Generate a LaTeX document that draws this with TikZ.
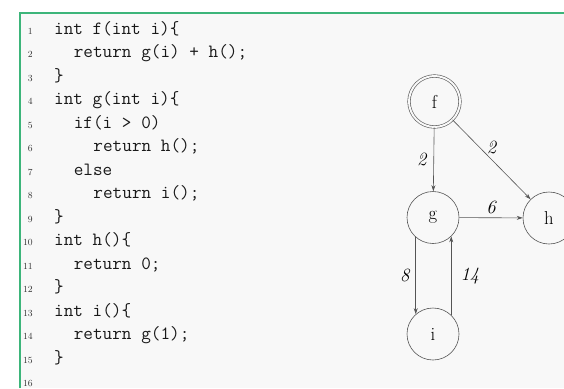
\documentclass[tikz,border=0pt]{standalone}
\usetikzlibrary{arrows.meta}
\definecolor{panelbg}{HTML}{F8F8F8}
\definecolor{framegreen}{HTML}{3DB57A}
\definecolor{edgegray}{HTML}{555555}
\definecolor{numgray}{HTML}{333333}
\begin{document}
\begin{tikzpicture}[x=1pt,y=-1pt,
  codeline/.style={anchor=base west,inner sep=0pt,font=\fontsize{18.7}{23.5}\selectfont\ttfamily,text=black!90},
  lineno/.style={anchor=base east,inner sep=0pt,font=\fontsize{9.35}{11}\selectfont,text=numgray},
  callnode/.style={circle,draw=edgegray,line width=0.6pt,minimum size=52pt,inner sep=0pt,font=\fontsize{18.7}{22}\selectfont},
  rootnode/.style={callnode,minimum size=51pt,double=panelbg,double distance=2pt},
  callarrow/.style={draw=edgegray,line width=0.6pt,-{Stealth[length=6pt,width=4pt]}},
  weight/.style={font=\fontsize{18.7}{22}\selectfont\itshape,inner sep=3pt}
]
\clip (0,0) rectangle (564,388);
\fill[white] (0,0) rectangle (564,388);
\fill[panelbg] (20,13) rectangle (564,388);
\draw[framegreen,line width=2pt] (20,388) -- (20,13) -- (564,13);

% source listing
\def\cw{9.82}
\node[lineno] (n1)  at (33,34)    {1};
\node[lineno] (n2)  at (33,57.5)  {2};
\node[lineno] (n3)  at (33,81)    {3};
\node[lineno] (n4)  at (33,104.5) {4};
\node[lineno] (n5)  at (33,128)   {5};
\node[lineno] (n6)  at (33,151.5) {6};
\node[lineno] (n7)  at (33,175)   {7};
\node[lineno] (n8)  at (33,198.5) {8};
\node[lineno] (n9)  at (33,222)   {9};
\node[lineno] (n10) at (33,245.5) {10};
\node[lineno] (n11) at (33,269)   {11};
\node[lineno] (n12) at (33,292.5) {12};
\node[lineno] (n13) at (33,316)   {13};
\node[lineno] (n14) at (33,339.5) {14};
\node[lineno] (n15) at (33,363)   {15};
\node[lineno] (n16) at (33,386.5) {16};

\node[codeline] (c1)  at (54,34)           {int f(int i)\{};
\node[codeline] (c2)  at (54+2*\cw,57.5)   {return g(i) + h();};
\node[codeline] (c3)  at (54,81)           {\}};
\node[codeline] (c4)  at (54,104.5)        {int g(int i)\{};
\node[codeline] (c5)  at (54+2*\cw,128)    {if(i > 0)};
\node[codeline] (c6)  at (54+4*\cw,151.5)  {return h();};
\node[codeline] (c7)  at (54+2*\cw,175)    {else};
\node[codeline] (c8)  at (54+4*\cw,198.5)  {return i();};
\node[codeline] (c9)  at (54,222)          {\}};
\node[codeline] (c10) at (54,245.5)        {int h()\{};
\node[codeline] (c11) at (54+2*\cw,269)    {return 0;};
\node[codeline] (c12) at (54,292.5)        {\}};
\node[codeline] (c13) at (54,316)          {int i()\{};
\node[codeline] (c14) at (54+2*\cw,339.5)  {return g(1);};
\node[codeline] (c15) at (54,363)          {\}};

% call graph
\node[rootnode] (f) at (434.5,101.5) {f};
\node[callnode] (g) at (433,217.5) {g};
\node[callnode] (h) at (549,218) {h};
\node[callnode] (i) at (433,334) {i};

\draw[callarrow] (f) -- node[weight,left=4pt] {2} (g);
\draw[callarrow] (f) -- node[weight,above=2pt] {2} (h);
\draw[callarrow] (g) -- node[weight,above=1pt] {6} (h);
\draw[callarrow] (g.229) -- node[weight,left=3pt] {8} (i.131);
\draw[callarrow] (i.46) -- node[weight,right=6pt] {14} (g.314);
\end{tikzpicture}
\end{document}
